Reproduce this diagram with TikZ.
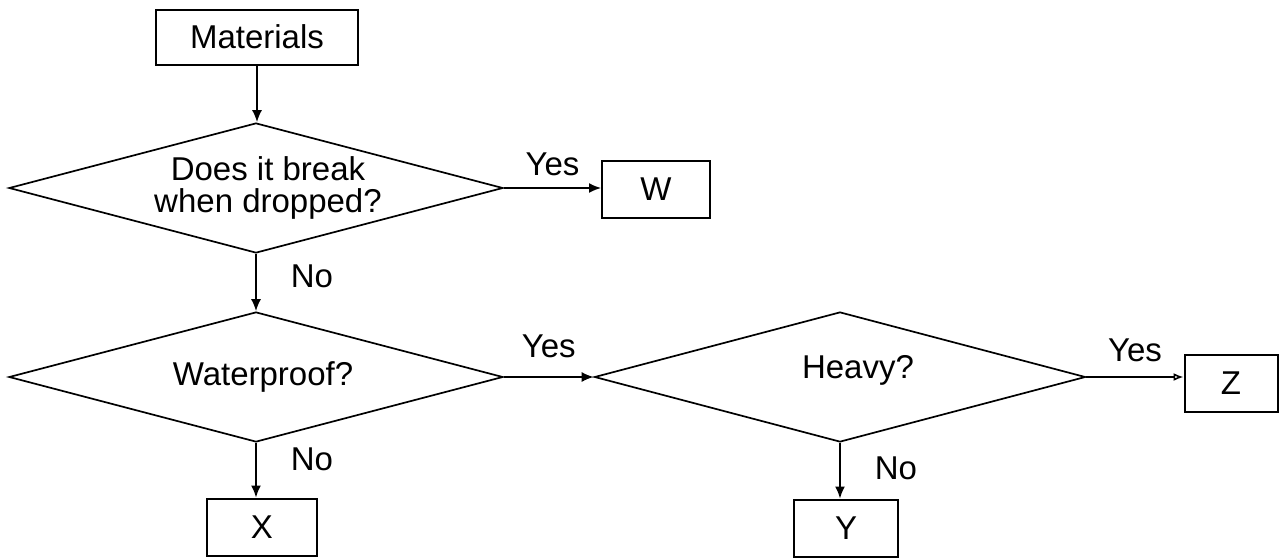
\documentclass[tikz,border=0pt]{standalone}
\usepackage{fontspec}
\setmainfont{Liberation Sans}
\usetikzlibrary{shapes.geometric,arrows.meta}

\tikzset{
  box/.style={draw, line width=1pt, inner sep=0pt, minimum height=28.5pt},
  decision/.style={draw, diamond, line width=0.85pt, inner sep=0pt, aspect=3.8,
    minimum width=247pt, minimum height=65pt},
  flow/.style={->, line width=0.8pt},
  lbl/.style={inner sep=3pt}
}

\begin{document}
\begin{tikzpicture}[x=0.5pt, y=-0.5pt, >={Latex[length=6pt,width=5pt]},
  font=\fontsize{16.5}{16}\selectfont]

    % 1. Khung ảnh
    \useasboundingbox (0,0) rectangle (1280,558);

    % 2. Các hộp và các ô quyết định
    \node[box, minimum width=101pt, minimum height=27.5pt] (mat) at (257,37) {Materials};
    \node[decision, label={[align=center, xshift=6pt]center:Does it break\\when dropped?}]
        (brk) at (256,188) {};
    \node[box, minimum width=54pt] (boxW) at (656,189) {W};
    \node[decision, label={[xshift=3.5pt]center:Waterproof?}] (wat) at (256,377) {};
    \node[decision, minimum width=245.5pt, label={[xshift=9pt, yshift=3.5pt]center:Heavy?}]
        (hvy) at (840,377) {};
    \node[box, minimum width=46.5pt] (boxZ) at (1231,383) {Z};
    \node[box, minimum width=55pt] (boxX) at (262,527) {X};
    \node[box, minimum width=52pt] (boxY) at (846,528) {Y};

    % 3. Các mũi tên và nhãn
    \draw[flow] (mat.south) -- (mat.south |- brk.north);
    \draw[flow] (brk.east) -- node[lbl, above=2.5pt] {Yes} (brk.east -| boxW.west);
    \draw[flow] (brk.south) -- node[lbl, right=14pt, pos=0.4] {No} (wat.north);
    \draw[flow] (wat.east) -- node[lbl, above=6pt] {Yes} (hvy.west);
    \draw[line width=0.8pt, -{Latex[open,length=5pt,width=4pt]}] (hvy.east)
        -- node[lbl, above=4pt] {Yes} (hvy.east -| boxZ.west);
    \draw[flow] (wat.south) -- node[lbl, right=14pt, pos=0.3] {No} (wat.south |- boxX.north);
    \draw[flow] (hvy.south) -- node[lbl, right=14pt, pos=0.45] {No} (hvy.south |- boxY.north);

\end{tikzpicture}
\end{document}
